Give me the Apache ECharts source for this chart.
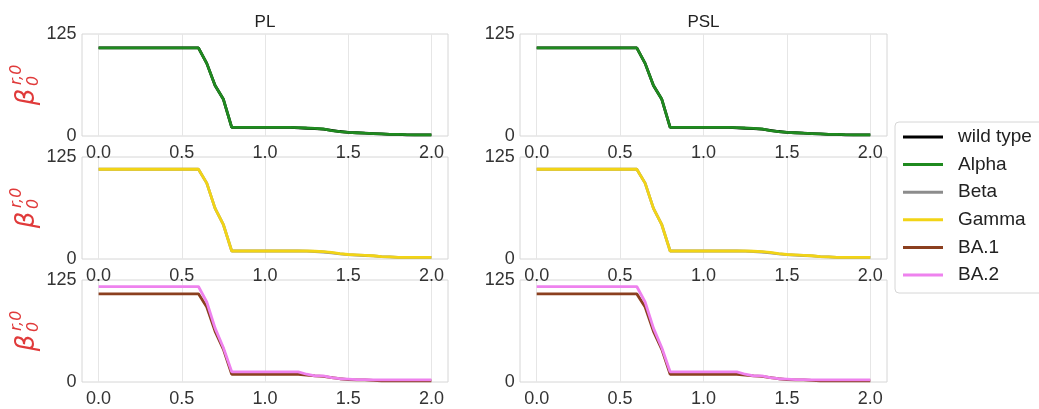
<!DOCTYPE html>
<html><head><meta charset="utf-8">
<script src="https://cdn.jsdelivr.net/npm/echarts@6/dist/echarts.min.js"></script>
<style>html,body{margin:0;padding:0;background:#fff}#c{width:1039px;height:409px}</style>
</head><body><div id="c"></div>
<script>
var xs = [0,0.05,0.1,0.15,0.2,0.25,0.3,0.35,0.4,0.45,0.5,0.55,0.6,0.65,0.7,0.75,0.8,0.85,0.9,0.95,1.0,1.05,1.1,1.15,1.2,1.25,1.3,1.35,1.4,1.45,1.5,1.55,1.6,1.65,1.7,1.75,1.8,1.85,1.9,1.95,2.0];
var wildType = [108,108,108,108,108,108,108,108,108,108,108,108,108,89,62,45,10.5,10.5,10.5,10.5,10.5,10.5,10.5,10.5,10,9.5,9,8.5,7,5.5,4.5,4,3.5,3,2.5,2,2,1.5,1.5,1.5,1.5];
var alpha    = [108,108,108,108,108,108,108,108,108,108,108,108,108,89,62,45,10.5,10.5,10.5,10.5,10.5,10.5,10.5,10.5,10.3,9.8,9.4,8.6,6.6,5.3,4.4,4,3.4,3,2.5,2,2,1.6,1.5,1.5,1.5];
var beta     = [110,110,110,110,110,110,110,110,110,110,110,110,110,93,62,42,9.8,9.8,9.8,9.8,9.8,9.8,9.8,9.8,9.8,9.6,9.2,8.6,7.6,6.2,5.3,4.8,4.3,3.8,3,2.5,2,2,2,2,2];
var gamma    = [110,110,110,110,110,110,110,110,110,110,110,110,110,93,62,42,9.8,9.8,9.8,9.8,9.8,9.8,9.8,9.8,9.8,9.8,9.5,9,8,6.5,5.5,5,4.5,4,3,2.5,2,2,2,2,2];
var ba1      = [108,108,108,108,108,108,108,108,108,108,108,108,108,92,62,40,9.5,9.5,9.5,9.5,9.5,9.5,9.5,9.5,9.5,8.5,7.5,7,5.5,4,3,2.5,2.5,2,1.5,1.5,1.5,1.5,1.5,1.5,1.5];
var ba2      = [117,117,117,117,117,117,117,117,117,117,117,117,117,98,66,42,12.5,12.5,12.5,12.5,12.5,12.5,12.5,12.5,12.5,9.5,7.5,7.5,5.5,4,3.5,3,3,2.5,2.5,2.5,2.5,2.5,2.5,2.5,2.5];
var xTicks = [0, 0.5, 1.0, 1.5, 2.0];
var yTicks = [0, 125];
var colTitles = ['PL', 'PSL'];
var names = ['wild type','Alpha','Beta','Gamma','BA.1','BA.2'];
var colors = ['#000000','#1f8a1f','#8c8c8c','#f2d416','#8b3f1f','#ee82ee'];
var rowSeries = [[0,1],[2,3],[4,5]];
var values = [wildType, alpha, beta, gamma, ba1, ba2];

var FONT = 'Liberation Sans, Arial, sans-serif';
var rowTops = [34, 157, 280], rowH = 102;
var frames = [{l:82, w:366, x0:98.6, xw:332.8}, {l:520, w:367, x0:536.7, xw:333.6}];

var grid = [], xAxis = [], yAxis = [], series = [], graphic = [];
for (var c = 0; c < 2; c++) for (var r = 0; r < 3; r++) {
  grid.push({left: frames[c].l, top: rowTops[r], width: frames[c].w, height: rowH, show: true,
    borderColor: '#d6d6d6', borderWidth: 1, backgroundColor: 'transparent'});
  var gi = grid.length - 1;
  xAxis.push({gridIndex: gi, type: 'value', show: false, min: 0, max: 1});
  yAxis.push({gridIndex: gi, type: 'value', show: false, min: 0, max: 1});
}
for (var c = 0; c < 2; c++) for (var r = 0; r < 3; r++) {
  grid.push({left: frames[c].x0, top: rowTops[r], width: frames[c].xw, height: rowH, show: false});
  var gi = grid.length - 1;
  xAxis.push({gridIndex: gi, type: 'value', min: xTicks[0], max: xTicks[xTicks.length-1], interval: xTicks[1]-xTicks[0],
    axisLine: {show: false}, axisTick: {show: false},
    splitLine: {show: true, lineStyle: {color: '#e6e6e6', width: 1}},
    axisLabel: {margin: 8, fontSize: 18, color: '#333', fontFamily: FONT,
      formatter: function (v) { return v.toFixed(1); }}});
  yAxis.push({gridIndex: gi, type: 'value', min: yTicks[0], max: yTicks[1], interval: yTicks[1]-yTicks[0],
    axisLine: {show: false}, axisTick: {show: false},
    splitLine: {show: false},
    axisLabel: {margin: 22, fontSize: 18, color: '#333', fontFamily: FONT}});
  rowSeries[r].forEach(function (si) {
    series.push({name: names[si], type: 'line', xAxisIndex: gi, yAxisIndex: gi,
      data: xs.map(function (x, i) { return [x, values[si][i]]; }),
      showSymbol: false, symbol: 'none', color: colors[si],
      lineStyle: {color: colors[si], width: 2.8}, animation: false, silent: true});
  });
}
for (var c = 0; c < 2; c++) {
  graphic.push({type: 'text', x: frames[c].l + frames[c].w/2, y: 22,
    style: {text: colTitles[c], fontSize: 17, fill: '#222', fontFamily: FONT, align: 'center', verticalAlign: 'middle'}});
}
var red = '#e03a3a';
for (var r = 0; r < 3; r++) {
  graphic.push({type: 'group', x: 27, y: rowTops[r] + 63, rotation: Math.PI/2, children: [
    {type: 'text', style: {text: 'β', x: 0, y: 0, fontSize: 26, fontStyle: 'italic', fill: red, fontFamily: 'DejaVu Sans', align: 'center', verticalAlign: 'middle'}},
    {type: 'text', style: {text: '0', x: 11, y: 7, fontSize: 16, fontStyle: 'italic', fill: red, fontFamily: 'DejaVu Sans', align: 'left', verticalAlign: 'middle'}},
    {type: 'text', style: {text: 'r,0', x: 12, y: -10, fontSize: 16, fontStyle: 'italic', fill: red, fontFamily: 'DejaVu Sans', align: 'left', verticalAlign: 'middle'}}
  ]});
}

var chart = echarts.init(document.getElementById('c'), null, {renderer: 'canvas'});
chart.setOption({
  animation: false,
  backgroundColor: '#fff',
  grid: grid, xAxis: xAxis, yAxis: yAxis, series: series, graphic: graphic,
  legend: {data: names, orient: 'vertical', left: 895, top: 122,
    icon: 'rect', itemWidth: 40, itemHeight: 3, itemGap: 8.6,
    padding: [5.5, 12, 8.5, 8], borderColor: '#d6d6d6', borderWidth: 1, borderRadius: 4,
    backgroundColor: '#fff',
    textStyle: {fontSize: 19, lineHeight: 19, color: '#222', fontFamily: FONT, padding: [0, 0, 0, 10]}}
});
</script></body></html>
